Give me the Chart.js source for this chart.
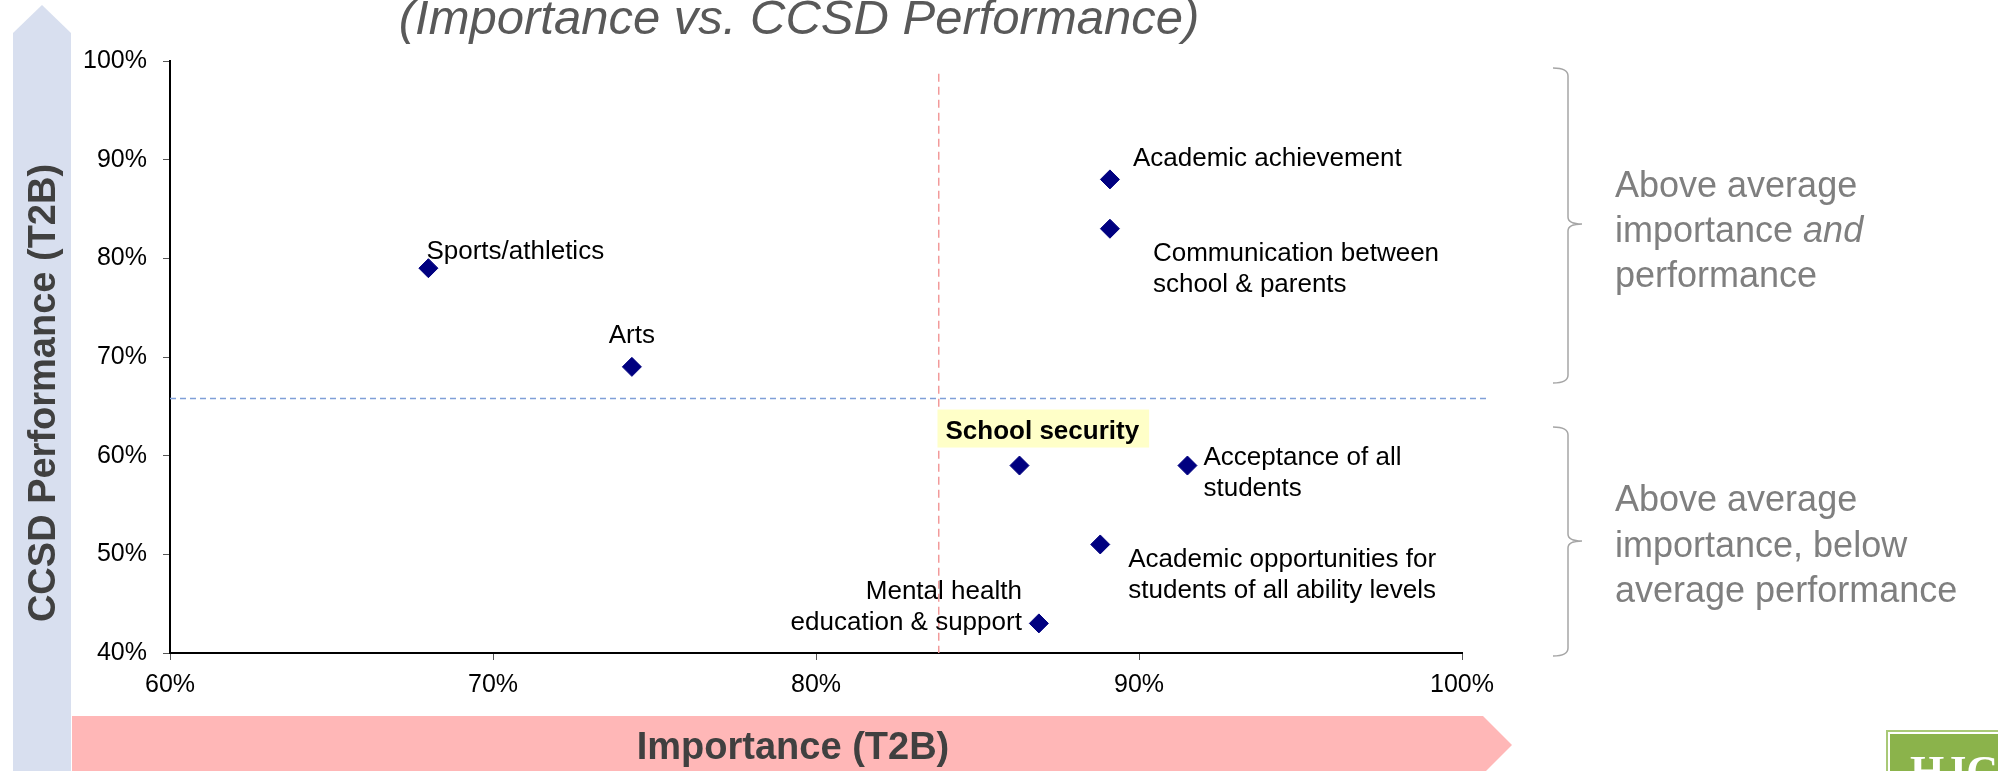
<!DOCTYPE html>
<html>
<head>
<meta charset="utf-8">
<title>Importance vs. CCSD Performance</title>
<script src="https://cdn.jsdelivr.net/npm/chart.js@4.4.0/dist/chart.umd.min.js"></script>
<style>
  html, body { margin: 0; padding: 0; background: #fff; }
  #wrap { position: relative; width: 1998px; height: 771px; overflow: hidden; }
</style>
</head>
<body>
<div id="wrap"><canvas id="quadChart" width="1998" height="771"></canvas></div>
<script>
const FONT = "'Liberation Sans', Arial, Helvetica, sans-serif";

// Data
const attributes = [
    'Academic achievement',
    'Communication between school & parents',
    'Sports/athletics',
    'Arts',
    'School security',
    'Acceptance of all students',
    'Academic opportunities for students of all ability levels',
    'Mental health education & support'
];
const importance = [89.1, 89.1, 68.0, 74.3, 86.3, 91.5, 88.8, 86.9];
const performance = [88, 83, 79, 69, 59, 59, 51, 43];
const xTickValues = [60, 70, 80, 90, 100];
const yTickValues = [40, 50, 60, 70, 80, 90, 100];
const avgImportance = 83.8;
const avgPerformance = 65.8;

// How each label sits next to its marker (pixels from the marker centre)
const labelLayout = [
    { lines: ['Academic achievement'], dx: 23, dy: -13, align: 'left' },
    { lines: ['Communication between', 'school & parents'], dx: 43, dy: 32, align: 'left' },
    { lines: ['Sports/athletics'], dx: -2, dy: -9, align: 'left' },
    { lines: ['Arts'], dx: 0, dy: -24, align: 'center' },
    { lines: ['School security'], dx: -74, dy: -27, align: 'left', bold: true, highlight: '#FFFFC8' },
    { lines: ['Acceptance of all', 'students'], dx: 16, dy: -1, align: 'left' },
    { lines: ['Academic opportunities for', 'students of all ability levels'], dx: 28, dy: 23, align: 'left' },
    { lines: ['Mental health', 'education & support'], dx: -17, dy: -24, align: 'right' }
];

const pct = v => v + '%';

// Background arrows, title, braces and side notes
const decorPlugin = {
    id: 'decor',
    beforeDraw(chart) {
        const ctx = chart.ctx;
        ctx.save();
        ctx.fillStyle = '#fff';
        ctx.fillRect(0, 0, chart.width, chart.height);

        // vertical arrow (performance)
        ctx.fillStyle = '#D8DFEF';
        ctx.beginPath();
        ctx.moveTo(13, 771);
        ctx.lineTo(13, 33);
        ctx.lineTo(42, 5);
        ctx.lineTo(71, 33);
        ctx.lineTo(71, 771);
        ctx.closePath();
        ctx.fill();

        // horizontal arrow (importance)
        ctx.fillStyle = '#FFB7B7';
        ctx.beginPath();
        ctx.moveTo(72, 716);
        ctx.lineTo(1483, 716);
        ctx.lineTo(1512, 745);
        ctx.lineTo(1483, 774);
        ctx.lineTo(72, 774);
        ctx.closePath();
        ctx.fill();

        // axis titles
        ctx.fillStyle = '#404040';
        ctx.font = 'bold 38px ' + FONT;
        ctx.textAlign = 'center';
        ctx.textBaseline = 'alphabetic';
        ctx.fillText('Importance (T2B)', 793, 759);
        ctx.save();
        ctx.translate(55, 393);
        ctx.rotate(-Math.PI / 2);
        ctx.fillText('CCSD Performance (T2B)', 0, 0);
        ctx.restore();

        // title (cut off at the top)
        ctx.fillStyle = '#595959';
        ctx.font = 'italic 49px ' + FONT;
        ctx.fillText('(Importance vs. CCSD Performance)', 799, 34);

        // braces
        ctx.strokeStyle = '#A6A6A6';
        ctx.lineWidth = 1.5;
        [[68, 224, 383], [427, 541, 656]].forEach(([top, mid, bot]) => {
            ctx.beginPath();
            ctx.moveTo(1553, top);
            ctx.quadraticCurveTo(1568, top, 1568, top + 8);
            ctx.lineTo(1568, mid - 7);
            ctx.quadraticCurveTo(1568, mid, 1582, mid);
            ctx.quadraticCurveTo(1568, mid, 1568, mid + 7);
            ctx.lineTo(1568, bot - 8);
            ctx.quadraticCurveTo(1568, bot, 1553, bot);
            ctx.stroke();
        });

        // side notes
        ctx.fillStyle = '#7F7F7F';
        ctx.textAlign = 'left';
        const note = (parts, x, y) => {
            let cx = x;
            parts.forEach(([txt, italic]) => {
                ctx.font = (italic ? 'italic ' : '') + '36px ' + FONT;
                ctx.fillText(txt, cx, y);
                cx += ctx.measureText(txt).width;
            });
        };
        note([['Above average']], 1615, 197);
        note([['importance '], ['and', true]], 1615, 242);
        note([['performance']], 1615, 287);
        note([['Above average']], 1615, 511);
        note([['importance, below']], 1615, 557);
        note([['average performance']], 1615, 602);

        // logo corner
        ctx.fillStyle = '#A9C977';
        ctx.fillRect(1886, 730, 112, 41);
        ctx.fillStyle = '#fff';
        ctx.fillRect(1888, 732, 110, 39);
        ctx.fillStyle = '#8BB34B';
        ctx.fillRect(1890, 734, 108, 37);
        ctx.fillStyle = '#fff';
        ctx.font = 'bold 44px "Liberation Serif", serif';
        ctx.fillText('HJC', 1910, 786);
        ctx.restore();
    },
    beforeDatasetsDraw(chart) {
        const ctx = chart.ctx;
        const xs = chart.scales.x, ys = chart.scales.y;
        ctx.save();
        ctx.lineWidth = 1.5;
        // average importance
        ctx.strokeStyle = '#F29A9A';
        ctx.setLineDash([8, 5]);
        const ax = xs.getPixelForValue(avgImportance);
        ctx.beginPath();
        ctx.moveTo(ax, ys.getPixelForValue(98.7));
        ctx.lineTo(ax, chart.chartArea.bottom);
        ctx.stroke();
        // average performance
        ctx.strokeStyle = '#7F9FD8';
        ctx.setLineDash([6, 4]);
        const ay = ys.getPixelForValue(avgPerformance);
        ctx.beginPath();
        ctx.moveTo(chart.chartArea.left, ay);
        ctx.lineTo(xs.getPixelForValue(100.8), ay);
        ctx.stroke();
        ctx.restore();
    },
    afterDatasetsDraw(chart) {
        const ctx = chart.ctx;
        const meta = chart.getDatasetMeta(0);
        ctx.save();
        ctx.fillStyle = '#000';
        ctx.textBaseline = 'alphabetic';
        meta.data.forEach((pt, i) => {
            const lay = labelLayout[i];
            ctx.font = (lay.bold ? 'bold ' : '') + '26px ' + FONT;
            ctx.textAlign = lay.align;
            const x = pt.x + lay.dx;
            const y = pt.y + lay.dy;
            if (lay.highlight) {
                const w = ctx.measureText(lay.lines[0]).width;
                ctx.fillStyle = lay.highlight;
                ctx.fillRect(x - 8, y - 29, w + 18, 38);
                ctx.fillStyle = '#000';
            }
            lay.lines.forEach((line, j) => ctx.fillText(line, x, y + j * 31));
        });
        ctx.restore();
    }
};

const ctx = document.getElementById('quadChart').getContext('2d');
new Chart(ctx, {
    type: 'scatter',
    data: {
        datasets: [{
            label: 'Attributes',
            data: attributes.map((name, i) => ({ x: importance[i], y: performance[i], name })),
            pointStyle: 'rectRot',
            pointRadius: 9.5,
            pointHoverRadius: 9.5,
            backgroundColor: '#000080',
            borderColor: '#000080',
            borderWidth: 1
        }]
    },
    options: {
        responsive: false,
        animation: false,
        events: [],
        layout: { padding: { left: 0, right: 536, top: 61, bottom: 0 } },
        plugins: { legend: { display: false }, tooltip: { enabled: false }, title: { display: false } },
        scales: {
            x: {
                type: 'linear',
                min: 60, max: 100,
                afterBuildTicks: s => { s.ticks = xTickValues.map(v => ({ value: v })); },
                afterFit: s => { s.height = 118; },
                border: { display: true, color: '#000', width: 2 },
                grid: { display: true, drawOnChartArea: false, drawTicks: true, tickLength: 7, color: '#555' },
                ticks: { color: '#000', font: { family: FONT, size: 25 }, padding: 10, maxRotation: 0, callback: pct }
            },
            y: {
                type: 'linear',
                min: 40, max: 100,
                afterBuildTicks: s => { s.ticks = yTickValues.map(v => ({ value: v })); },
                afterFit: s => { s.width = 170; },
                border: { display: true, color: '#000', width: 2 },
                grid: { display: true, drawOnChartArea: false, drawTicks: true, tickLength: 7, color: '#555' },
                ticks: { color: '#000', font: { family: FONT, size: 25 }, padding: 16, callback: pct }
            }
        }
    },
    plugins: [decorPlugin]
});
</script>
</body>
</html>
